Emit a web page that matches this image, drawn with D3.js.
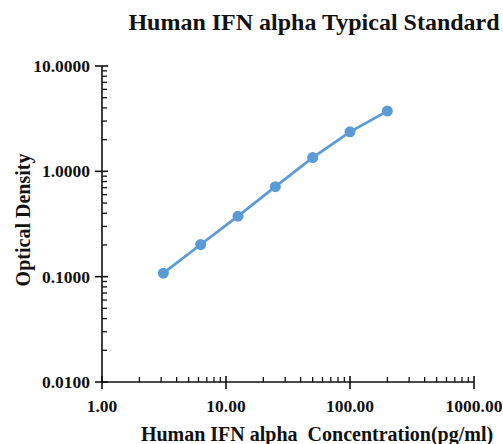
<!DOCTYPE html>
<html>
<head>
<meta charset="utf-8">
<script src="https://cdn.jsdelivr.net/npm/d3@7"></script>
<style>
  body { margin: 0; background: #fff; }
  text { font-family: "Liberation Serif", "Times New Roman", serif; font-weight: bold; fill: #111; }
</style>
</head>
<body>
<div id="chart"></div>
<script>
// standard curve readings
const concentrations = [3.125, 6.25, 12.5, 25, 50, 100, 200];
const densities = [0.108, 0.202, 0.375, 0.715, 1.35, 2.37, 3.73];

const xTickValues = [1, 10, 100, 1000];
const yTickValues = [0.01, 0.1, 1, 10];

const titleText = "Human IFN alpha Typical Standard";
const xTitleText = "Human IFN alpha  Concentration(pg/ml)";
const yTitleText = "Optical Density";

/* margins and size */
const margin = {top: 66, right: 29, bottom: 62, left: 102};
const width = 503 - margin.left - margin.right;
const height = 444 - margin.top - margin.bottom;

const svg = d3.select("#chart")
  .append("svg")
  .attr("width", 503)
  .attr("height", 444);

const g = svg.append("g")
  .attr("transform", `translate(${margin.left},${margin.top})`);

const xScale = d3.scaleLog().domain([1, 1000]).range([0, width]);
const yScale = d3.scaleLog().domain([0.01, 10]).range([height, 0]);

/* minor ticks for each decade */
function minorTicks(domain) {
  const out = [];
  for (let p = Math.log10(domain[0]); p < Math.log10(domain[1]); p++) {
    for (let k = 2; k <= 9; k++) out.push(k * Math.pow(10, p));
  }
  return out;
}

/* x axis: minor ticks point up, majors cross */
const xAxisG = g.append("g").attr("transform", `translate(0,${height})`);
xAxisG.append("line")
  .attr("x1", 0).attr("x2", width)
  .attr("stroke", "#111").attr("stroke-width", 1.6);
xAxisG.selectAll(".xminor")
  .data(minorTicks(xScale.domain()))
  .join("line")
  .attr("x1", d => xScale(d)).attr("x2", d => xScale(d))
  .attr("y1", 0).attr("y2", -5)
  .attr("stroke", "#111").attr("stroke-width", 1.3);
xAxisG.selectAll(".xmajor")
  .data(xTickValues)
  .join("line")
  .attr("x1", d => xScale(d)).attr("x2", d => xScale(d))
  .attr("y1", -6).attr("y2", 7)
  .attr("stroke", "#111").attr("stroke-width", 1.6);
xAxisG.selectAll(".xlabel")
  .data(xTickValues)
  .join("text")
  .attr("x", d => xScale(d))
  .attr("y", 30)
  .attr("text-anchor", "middle")
  .style("font-size", "17.5px")
  .text(d => d3.format(".2f")(d));

/* y axis: minor ticks point right, majors cross */
const yAxisG = g.append("g");
yAxisG.append("line")
  .attr("y1", 0).attr("y2", height)
  .attr("stroke", "#111").attr("stroke-width", 1.6);
yAxisG.selectAll(".yminor")
  .data(minorTicks(yScale.domain()))
  .join("line")
  .attr("y1", d => yScale(d)).attr("y2", d => yScale(d))
  .attr("x1", 0).attr("x2", 5)
  .attr("stroke", "#111").attr("stroke-width", 1.3);
yAxisG.selectAll(".ymajor")
  .data(yTickValues)
  .join("line")
  .attr("y1", d => yScale(d)).attr("y2", d => yScale(d))
  .attr("x1", -7).attr("x2", 6)
  .attr("stroke", "#111").attr("stroke-width", 1.6);
yAxisG.selectAll(".ylabel")
  .data(yTickValues)
  .join("text")
  .attr("x", -12)
  .attr("y", d => yScale(d))
  .attr("dy", "0.35em")
  .attr("text-anchor", "end")
  .style("font-size", "17.5px")
  .text(d => d3.format(".4f")(d));

/* the curve */
const points = concentrations.map((c, i) => ({x: c, y: densities[i]}));
const line = d3.line()
  .x(d => xScale(d.x))
  .y(d => yScale(d.y));

g.append("path")
  .datum(points)
  .attr("d", line)
  .attr("fill", "none")
  .attr("stroke", "#5b9bd5")
  .attr("stroke-width", 2.8);

g.selectAll(".dot")
  .data(points)
  .join("circle")
  .attr("cx", d => xScale(d.x))
  .attr("cy", d => yScale(d.y))
  .attr("r", 5.5)
  .attr("fill", "#5b9bd5");

/* titles */
svg.append("text")
  .attr("x", 314)
  .attr("y", 30)
  .attr("text-anchor", "middle")
  .style("font-size", "24px")
  .text(titleText);

svg.append("text")
  .attr("x", 317)
  .attr("y", 441)
  .attr("text-anchor", "middle")
  .style("font-size", "20px")
  .style("white-space", "pre")
  .text(xTitleText);

svg.append("text")
  .attr("transform", "translate(30,220) rotate(-90)")
  .attr("text-anchor", "middle")
  .style("font-size", "20px")
  .text(yTitleText);
</script>
</body>
</html>
